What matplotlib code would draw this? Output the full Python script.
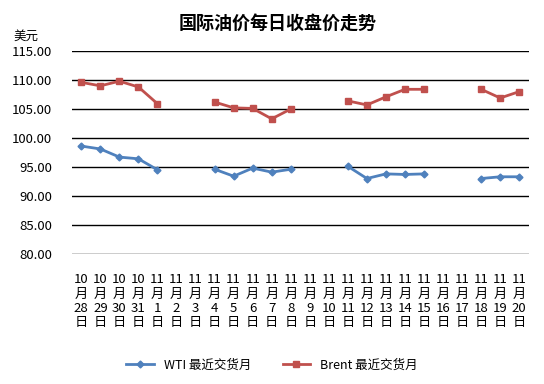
import numpy as np
import matplotlib
matplotlib.use("Agg")
import matplotlib.pyplot as plt

plt.rcParams['font.family'] = ['Noto Sans CJK SC', 'DejaVu Sans']

# 日期
dates = ["10\n月\n28\n日", "10\n月\n29\n日", "10\n月\n30\n日", "10\n月\n31\n日"] + \
        ["11\n月\n%d\n日" % d for d in range(1, 21)]

nan = np.nan
wti = [98.6, 98.1, 96.7, 96.4, 94.5, nan, nan,
       94.6, 93.4, 94.8, 94.1, 94.6, nan, nan,
       95.1, 93.0, 93.8, 93.7, 93.8, nan, nan,
       93.0, 93.3, 93.3]
brent = [109.6, 109.0, 109.8, 108.8, 105.9, nan, nan,
         106.2, 105.2, 105.1, 103.3, 105.0, nan, nan,
         106.4, 105.7, 107.1, 108.4, 108.4, nan, nan,
         108.4, 106.9, 108.0]

fig = plt.figure(figsize=(5.44, 3.84), dpi=100)
ax = fig.add_axes([0.132, 0.339, 0.840, 0.528])

x = np.arange(len(dates))
ax.plot(x, wti, color='#4F81BD', lw=2, marker='D', ms=3.5, label='WTI 最近交货月')
ax.plot(x, brent, color='#C0504D', lw=2, marker='s', ms=5, label='Brent 最近交货月')

ax.set_xlim(-0.5, len(dates) - 0.5)
ax.set_ylim(80, 115)
ax.set_yticks(np.arange(80, 116, 5))
ax.set_yticklabels(["%.2f" % v for v in np.arange(80, 116, 5)], fontsize=9.5)
ax.set_xticks(x)
ax.set_xticklabels(dates, fontsize=9.5, linespacing=1.12)
ax.tick_params(axis='x', length=0, pad=14)
ax.tick_params(axis='y', length=0, pad=14)
ax.grid(axis='y', color='black', lw=1)
ax.set_axisbelow(True)
for s in ax.spines.values():
    s.set_visible(False)

fig.text(0.51, 0.94, "国际油价每日收盘价走势", ha='center', va='center',
         fontsize=13, fontweight='bold')
fig.text(0.025, 0.905, "美元", ha='left', va='center', fontsize=9)

fig.legend(loc='center', bbox_to_anchor=(0.5, 0.05), ncol=2, frameon=False,
           fontsize=9, handlelength=2.2, columnspacing=2.5)

fig.savefig("out.png", dpi=100)
